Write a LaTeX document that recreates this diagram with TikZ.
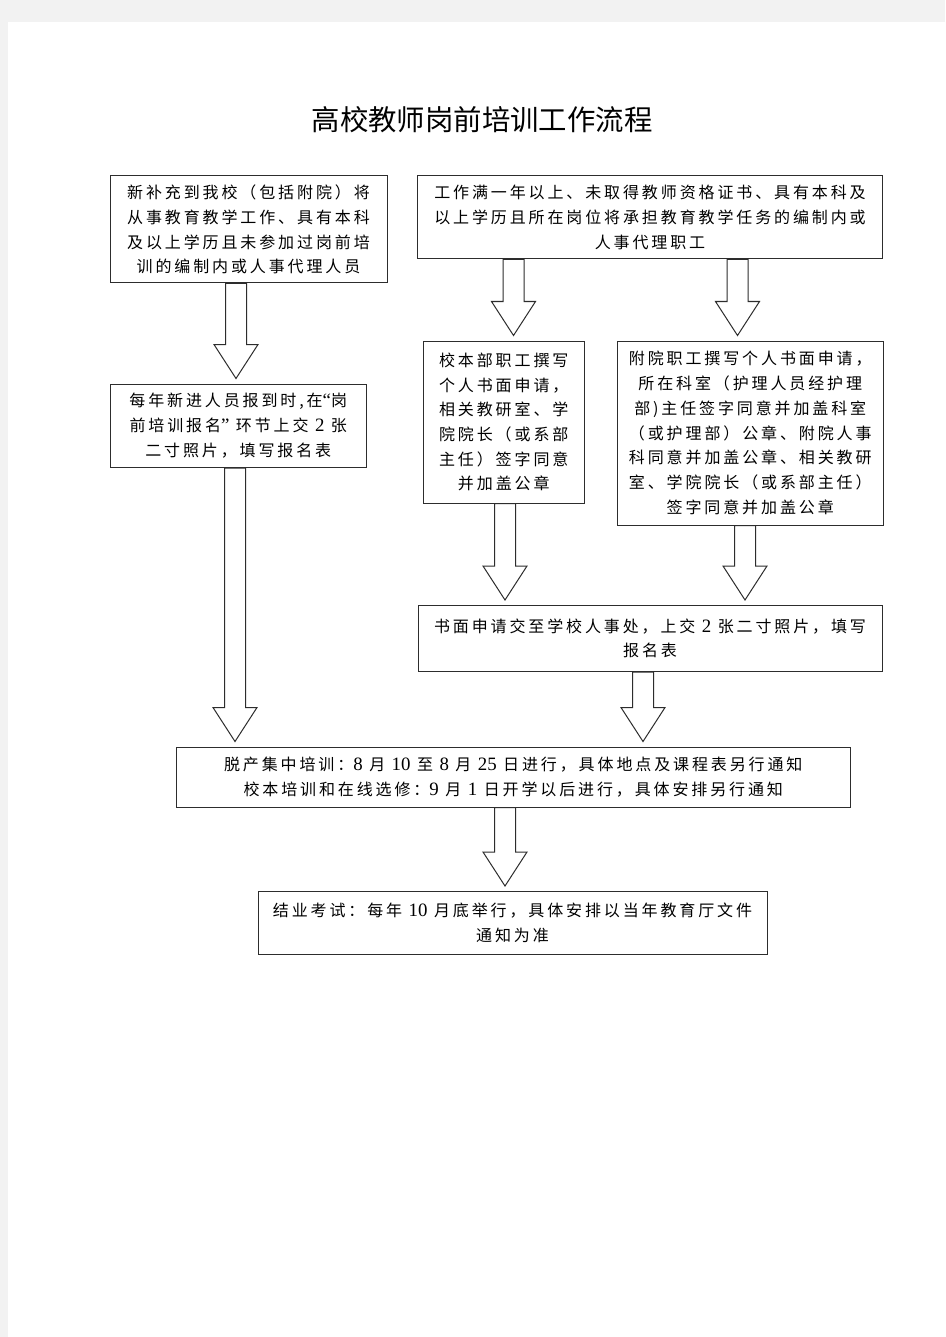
\documentclass[tikz,border=0pt]{standalone}
\usepackage{fontspec}
\setmainfont{Noto Sans CJK SC}
\newfontfamily\boxfont{Noto Sans CJK SC}[LetterSpace=18]
\newfontfamily\latinfont{Liberation Serif}[Scale=1.18]
\newcommand{\lat}[1]{{\latinfont #1}}
\usetikzlibrary{calc}
\definecolor{pagegray}{RGB}{242,242,242}
\definecolor{linegray}{RGB}{45,45,45}
\tikzset{flow box/.style={rectangle,draw=linegray,line width=1pt,fill=white,inner sep=0pt,align=center,font=\boxfont\fontsize{16}{24.7}\selectfont},
         big arrow/.style={draw=linegray,line width=1pt,fill=white,line join=miter},
         title label/.style={rectangle,draw=none,fill=none,inner sep=0pt,font=\fontsize{28.4}{30}\selectfont}
}
% hollow block arrow: x position, from node, to node
\newcommand{\blockarrow}[3]{
  \draw[big arrow] let \p1=(#2.south), \p2=(#3.north) in
    (#1pt-10.5pt,\y1) -- (#1pt-10.5pt,\y2+39pt) -- (#1pt-22pt,\y2+39pt) -- (#1pt,\y2+5pt)
    -- (#1pt+22pt,\y2+39pt) -- (#1pt+10.5pt,\y2+39pt) -- (#1pt+10.5pt,\y1) -- cycle;
}

\begin{document}
\begin{tikzpicture}[x=1pt,y=-1pt]

\useasboundingbox (0,0) rectangle (945,1337);
\fill[pagegray] (0,0) rectangle (945,1337);
\fill[white] (8,22) rectangle (945,1337);

\node[title label] (title) at (482,120) {高校教师岗前培训工作流程};

\node[flow box,minimum width=277pt,minimum height=107pt] (newstaff) at (248.5,229.5)
  {新补充到我校（包括附院）将\\从事教育教学工作、具有本科\\及以上学历且未参加过岗前培\\训的编制内或人事代理人员};
\node[flow box,minimum width=465pt,minimum height=83pt] (serving) at (650,217.5)
  {工作满一年以上、未取得教师资格证书、具有本科及\\以上学历且所在岗位将承担教育教学任务的编制内或\\人事代理职工};
\node[flow box,minimum width=256.5pt,minimum height=83.5pt] (report) at (238.25,425.75)
  {每年新进人员报到时,在\lat{“}岗\\前培训报名\lat{”} 环节上交 \lat{2} 张\\二寸照片，填写报名表};
\node[flow box,minimum width=161.5pt,minimum height=162pt] (campus) at (503.75,422)
  {校本部职工撰写\\个人书面申请，\\相关教研室、学\\院院长（或系部\\主任）签字同意\\并加盖公章};
\node[flow box,minimum width=266.5pt,minimum height=184pt] (hospital) at (750.25,433)
  {附院职工撰写个人书面申请，\\所在科室（护理人员经护理\\部)主任签字同意并加盖科室\\（或护理部）公章、附院人事\\科同意并加盖公章、相关教研\\室、学院院长（或系部主任）\\签字同意并加盖公章};
\node[flow box,minimum width=464pt,minimum height=66pt] (submit) at (650,638.5)
  {书面申请交至学校人事处，上交 \lat{2} 张二寸照片，填写\\报名表};
\node[flow box,minimum width=673.5pt,minimum height=60pt] (training) at (513.25,777)
  {脱产集中培训：\lat{8} 月 \lat{10} 至 \lat{8} 月 \lat{25} 日进行，具体地点及课程表另行通知\\校本培训和在线选修：\lat{9} 月 \lat{1} 日开学以后进行，具体安排另行通知};
\node[flow box,minimum width=509pt,minimum height=63pt] (exam) at (512.5,923)
  {结业考试：每年 \lat{10} 月底举行，具体安排以当年教育厅文件\\通知为准};

\blockarrow{236}{newstaff}{report}
\blockarrow{513.5}{serving}{campus}
\blockarrow{737.5}{serving}{hospital}
\blockarrow{505}{campus}{submit}
\blockarrow{745}{hospital}{submit}
\blockarrow{235}{report}{training}
\blockarrow{643}{submit}{training}
\blockarrow{505}{training}{exam}

\end{tikzpicture}
\end{document}
